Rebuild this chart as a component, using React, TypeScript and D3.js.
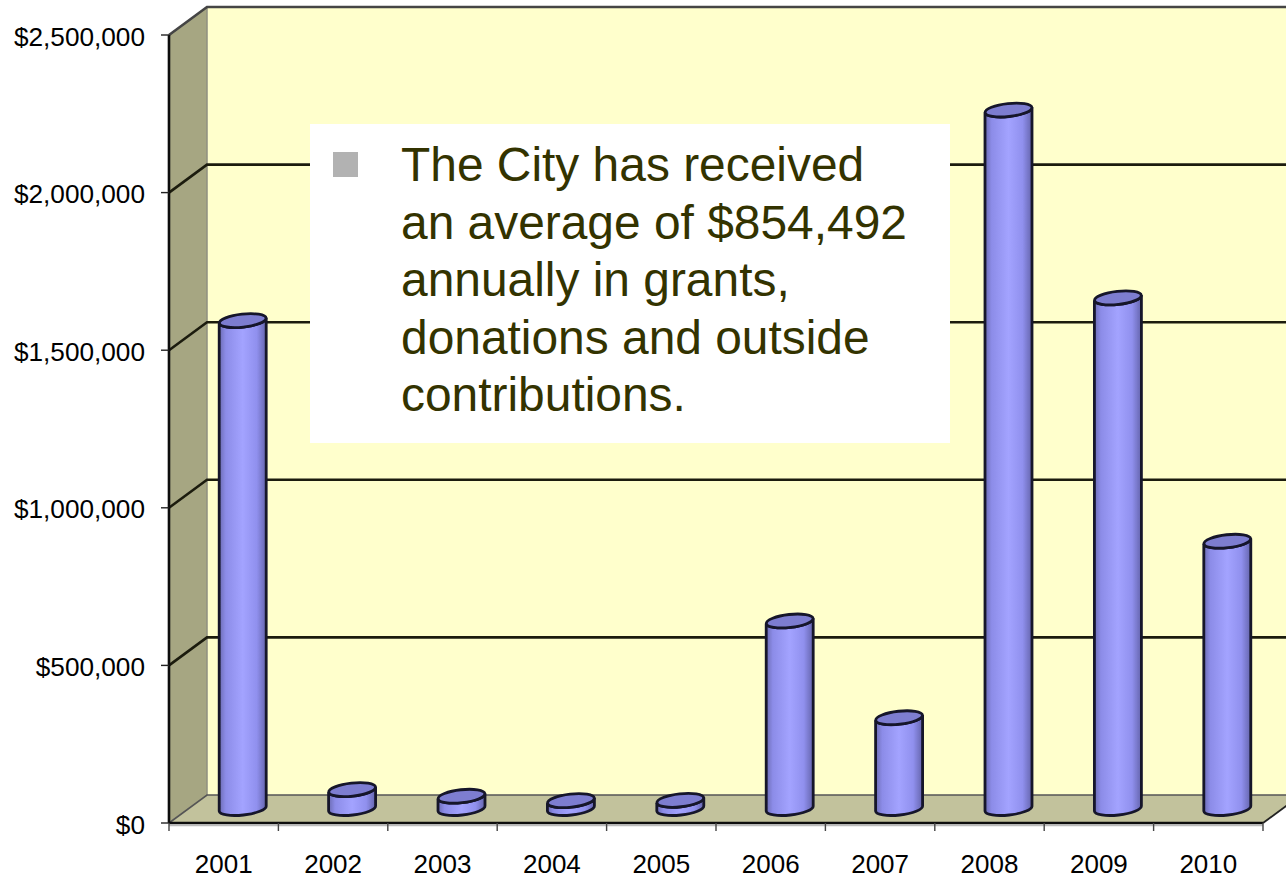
import React from "react";
import * as d3 from "d3";

const years = ["2001","2002","2003","2004","2005","2006","2007","2008","2009","2010"];
const amounts = [1548000,60000,39000,25000,26000,595000,288000,2216000,1620000,848000];
const yTicks = [0,500000,1000000,1500000,2000000,2500000];
const noteLines = ["The City has received","an average of $854,492","annually in grants,","donations and outside","contributions."];

const W = 1286, H = 878;
const DX = 38, DY = -28;
const y = d3.scaleLinear().domain([0,2500000]).range([823,35]);
const x = d3.scaleBand<string>().domain(years).range([169,1263]);
const fmt = (v:number) => "$" + d3.format(",")(v);
const FONT = "'Liberation Sans', Arial, sans-serif";

function Cylinder({year,value}:{year:string,value:number}) {
  const cx = (x(year) as number) + x.bandwidth()/2 + 19;
  const base = y(0) - 14.5, top = y(value) - 14.5;
  const rx = 23.5, ry = 6.5, dy = 2.6; // tilt: right edge is higher than the left edge
  const body = `M${cx-rx},${top+dy} L${cx-rx},${base+dy} A${rx},${ry} -6.3 0 0 ${cx+rx},${base-dy} L${cx+rx},${top-dy} A${rx},${ry} -6.3 0 1 ${cx-rx},${top+dy} Z`;
  return <g stroke="#15152a" strokeWidth={2.8}>
    <path d={body} fill="url(#cyl)" />
    <ellipse cx={cx} cy={top} rx={rx} ry={ry} transform={`rotate(-6.3 ${cx} ${top})`} fill="#7d7dd0" />
  </g>;
}

export default function App() {
  const right = x.range()[1], left = x.range()[0];
  const clipR = W + 60;
  return (
    <svg width={W} height={H} viewBox={`0 0 ${W} ${H}`} style={{position:"absolute",left:0,top:0,background:"#fff"}} fontFamily={FONT}>
      <defs>
        <linearGradient id="cyl" x1="0" x2="1" y1="0" y2="0">
          <stop offset="0" stopColor="#6c6cb4"/>
          <stop offset="0.14" stopColor="#8c8ce8"/>
          <stop offset="0.5" stopColor="#a3a3ff"/>
          <stop offset="0.8" stopColor="#9090ee"/>
          <stop offset="1" stopColor="#6464ac"/>
        </linearGradient>
        <filter id="soft" x="-2%" y="-2%" width="104%" height="104%"><feGaussianBlur stdDeviation="0.45"/></filter>
      </defs>
      <g filter="url(#soft)">
      {/* back wall */}
      <polygon points={`${left+DX},${y(2500000)+DY} ${clipR},${y(2500000)+DY} ${clipR},${y(0)+DY} ${left+DX},${y(0)+DY}`} fill="#ffffcc"/>
      {/* side wall */}
      <polygon points={`${left},${y(0)} ${left},${y(2500000)} ${left+DX},${y(2500000)+DY} ${left+DX},${y(0)+DY}`} fill="#a6a682"/>
      {/* floor */}
      <polygon points={`${left},${y(0)} ${right},${y(0)} ${right+DX},${y(0)+DY} ${clipR},${y(0)+DY} ${left+DX},${y(0)+DY}`} fill="#c2c29c"/>
      <line x1={left+DX} x2={left+DX} y1={y(2500000)+DY} y2={y(0)+DY} stroke="#8f8f80" strokeWidth={1.5}/>
      {/* grid lines */}
      {yTicks.map(t => {
        const isTop = t === 2500000, isZero = t === 0;
        return <polyline key={t} points={`${left},${y(t)} ${left+DX},${y(t)+DY} ${clipR},${y(t)+DY}`}
          stroke={isTop ? "#444" : isZero ? "#555" : "#1c1c10"} strokeWidth={isZero ? 1.6 : 2.6} fill="none"/>;
      })}
      {/* front axes */}
      <line x1={left} x2={left} y1={y(0)} y2={y(2500000)} stroke="#111" strokeWidth={2.6}/>
      <line x1={left} x2={right} y1={y(0)+2.5} y2={y(0)+2.5} stroke="#bbb" strokeWidth={1.5}/>
      <line x1={left} x2={right} y1={y(0)} y2={y(0)} stroke="#111" strokeWidth={2.4}/>
      <line x1={right} x2={right+DX} y1={y(0)} y2={y(0)+DY} stroke="#222" strokeWidth={1.8}/>
      {yTicks.map(t => <line key={t} x1={left-8} x2={left} y1={y(t)} y2={y(t)} stroke="#222" strokeWidth={1.4}/>)}
      {years.map(yr => <line key={yr} x1={x(yr)} x2={x(yr)} y1={y(0)} y2={y(0)+8} stroke="#444" strokeWidth={1.4}/>)}
      <line x1={right} x2={right} y1={y(0)} y2={y(0)+8} stroke="#444" strokeWidth={1.4}/>
      {years.map((yr,i) => <Cylinder key={yr} year={yr} value={amounts[i]}/>)}
      </g>
      {yTicks.map(t => <text key={t} x={145} y={y(t)+1.2} dy="0.36em" textAnchor="end" fontSize={26.2} fill="#000">{fmt(t)}</text>)}
      {years.map(yr => <text key={yr} x={(x(yr) as number)+x.bandwidth()/2} y={873} textAnchor="middle" fontSize={26} fill="#000">{yr}</text>)}
      {/* note */}
      <rect x={310} y={124} width={640} height={319} fill="#fff"/>
      <rect x={333} y={152} width={25} height={25} fill="#b2b2b2"/>
      {noteLines.map((l,i) => <text key={l} x={401} y={181+i*57.6} fontSize={47.9} fill="#333300">{l}</text>)}
    </svg>
  );
}
